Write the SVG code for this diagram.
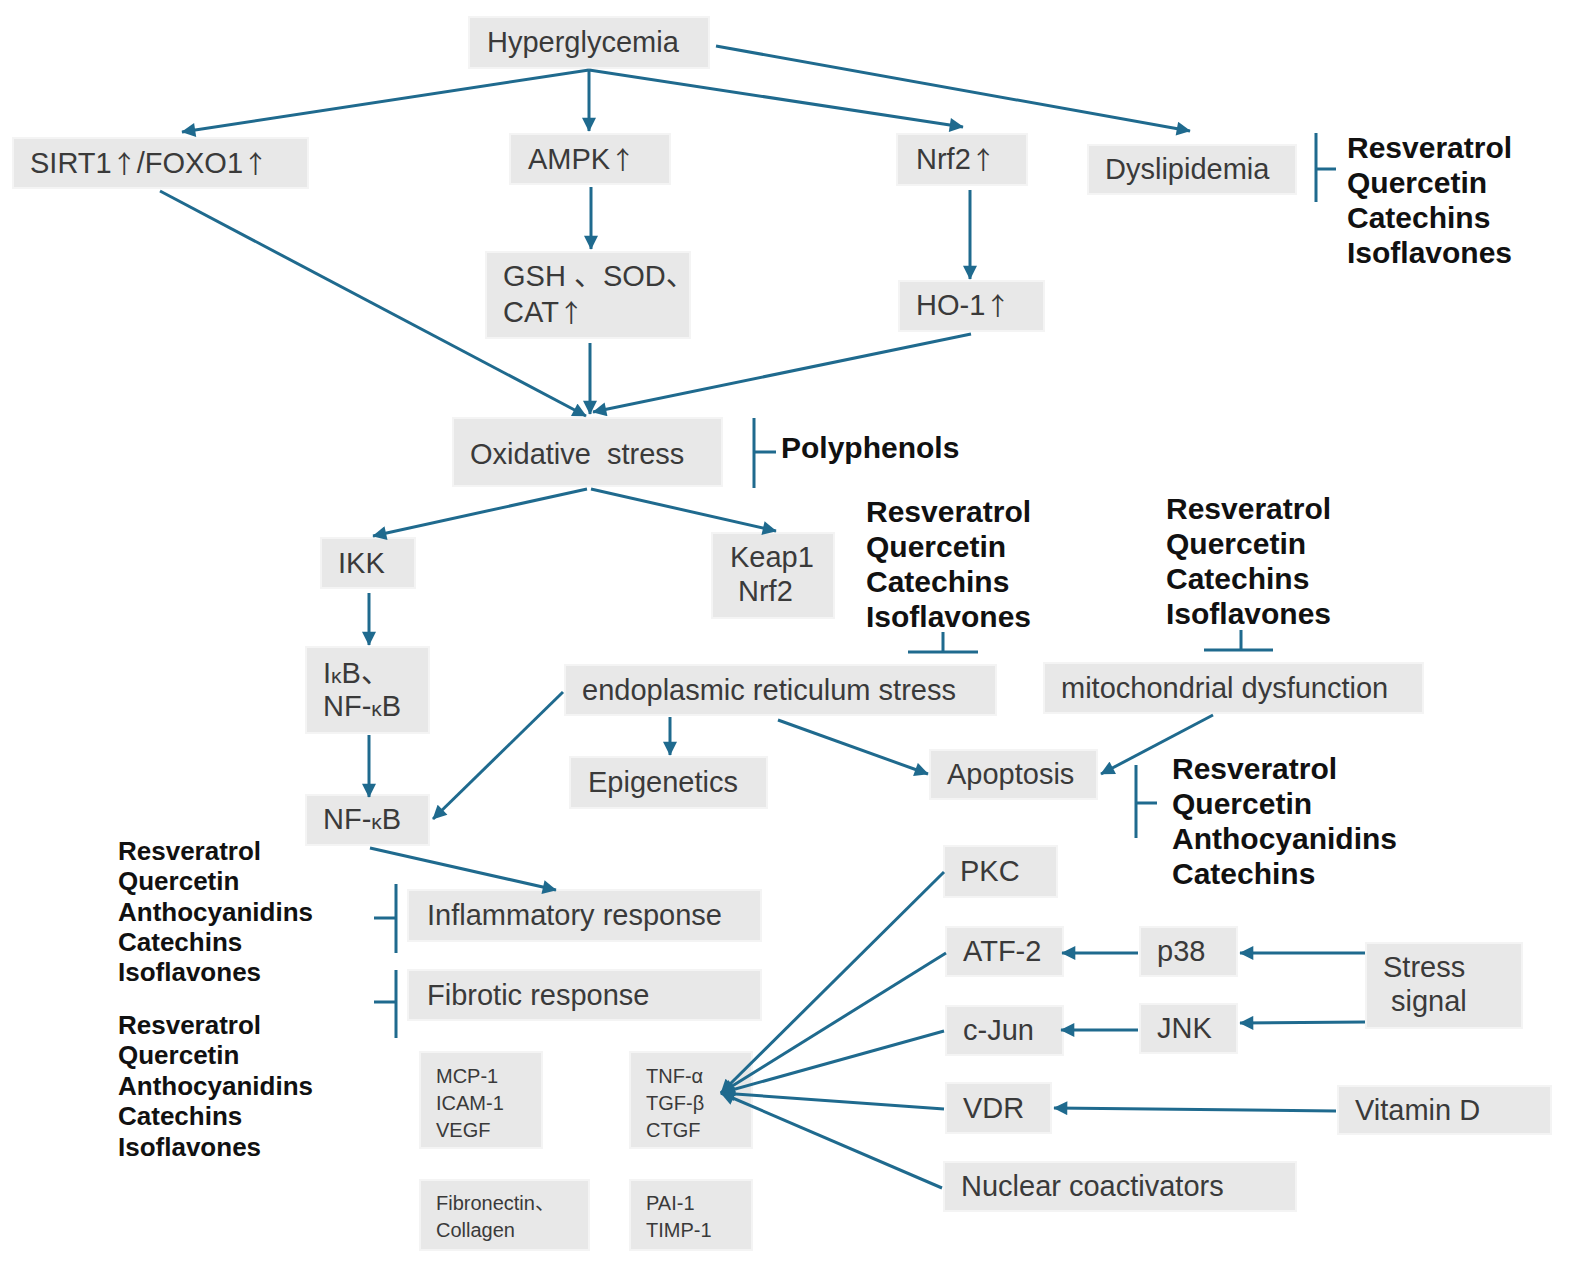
<svg xmlns="http://www.w3.org/2000/svg" width="1570" height="1273" viewBox="0 0 1570 1273">
<defs>
<marker id="ah" viewBox="0 0 10 10" refX="9.5" refY="5" markerWidth="15" markerHeight="14" markerUnits="userSpaceOnUse" orient="auto">
<path d="M0,0 L10,5 L0,10 z" fill="#1f6a8e"/>
</marker>
<style>
.b{fill:#e8e8e8;stroke:#f4f4f4;stroke-width:2}
.t{font-family:"Liberation Sans","Noto Sans CJK JP",sans-serif;font-size:29px;fill:#3a3a3a}
.s{font-family:"Liberation Sans","Noto Sans CJK JP",sans-serif;font-size:20px;fill:#3a3a3a}
.k{font-family:"Liberation Sans","Noto Sans CJK JP",sans-serif;font-size:30px;font-weight:bold;fill:#111}
.kl{font-family:"Liberation Sans","Noto Sans CJK JP",sans-serif;font-size:26px;font-weight:bold;fill:#111}
.u{font-family:"Noto Sans CJK JP",sans-serif;font-size:25px}
.c{stroke:#1f6a8e;stroke-width:3;fill:none;marker-end:url(#ah)}
.i{stroke:#1f6a8e;stroke-width:3;fill:none}
</style>
</defs>
<rect width="1570" height="1273" fill="#ffffff"/>

<g id="hyperglycemia"><rect class="b" x="469" y="17" width="240" height="51"/><text class="t" x="487" y="52">Hyperglycemia</text></g>
<g id="sirt1"><rect class="b" x="13" y="138" width="295" height="50"/><text class="t" x="30" y="173">SIRT1<tspan class="u">↑</tspan>/FOXO1<tspan class="u">↑</tspan></text></g>
<g id="ampk"><rect class="b" x="510" y="134" width="160" height="50"/><text class="t" x="528" y="169">AMPK<tspan class="u">↑</tspan></text></g>
<g id="nrf2"><rect class="b" x="897" y="134" width="130" height="51"/><text class="t" x="916" y="169">Nrf2<tspan class="u">↑</tspan></text></g>
<g id="dyslipidemia"><rect class="b" x="1088" y="145" width="208" height="49"/><text class="t" x="1105" y="179">Dyslipidemia</text></g>
<g id="inh-dyslipidemia"><text class="k" x="1347" y="158">Resveratrol</text><text class="k" x="1347" y="193">Quercetin</text><text class="k" x="1347" y="228">Catechins</text><text class="k" x="1347" y="263">Isoflavones</text></g>
<g id="gsh"><rect class="b" x="486" y="252" width="204" height="86"/><text class="t" x="503" y="286">GSH 、SOD、</text><text class="t" x="503" y="322">CAT<tspan class="u">↑</tspan></text></g>
<g id="ho1"><rect class="b" x="899" y="281" width="145" height="50"/><text class="t" x="916" y="315">HO-1<tspan class="u">↑</tspan></text></g>
<g id="oxidative"><rect class="b" x="453" y="418" width="269" height="68"/><text class="t" x="470" y="464" xml:space="preserve">Oxidative  stress</text></g>
<g id="polyphenols"><text class="k" x="781" y="458">Polyphenols</text></g>
<g id="ikk"><rect class="b" x="321" y="538" width="94" height="50"/><text class="t" x="338" y="573">IKK</text></g>
<g id="keap1"><rect class="b" x="712" y="533" width="122" height="85"/><text class="t" x="730" y="567">Keap1</text><text class="t" x="738" y="601">Nrf2</text></g>
<g id="inh-er"><text class="k" x="866" y="522">Resveratrol</text><text class="k" x="866" y="557">Quercetin</text><text class="k" x="866" y="592">Catechins</text><text class="k" x="866" y="627">Isoflavones</text></g>
<g id="inh-mito"><text class="k" x="1166" y="519">Resveratrol</text><text class="k" x="1166" y="554">Quercetin</text><text class="k" x="1166" y="589">Catechins</text><text class="k" x="1166" y="624">Isoflavones</text></g>
<g id="ikb"><rect class="b" x="306" y="647" width="123" height="86"/><text class="t" x="323" y="683">I<tspan font-size="21">κ</tspan>B、</text><text class="t" x="323" y="716">NF-<tspan font-size="21">κ</tspan>B</text></g>
<g id="er-stress"><rect class="b" x="565" y="665" width="431" height="50"/><text class="t" x="582" y="700">endoplasmic reticulum stress</text></g>
<g id="mito"><rect class="b" x="1044" y="663" width="379" height="50"/><text class="t" x="1061" y="698">mitochondrial dysfunction</text></g>
<g id="nfkb"><rect class="b" x="306" y="795" width="123" height="50"/><text class="t" x="323" y="829">NF-<tspan font-size="21">κ</tspan>B</text></g>
<g id="epigenetics"><rect class="b" x="570" y="757" width="197" height="51"/><text class="t" x="588" y="792">Epigenetics</text></g>
<g id="apoptosis"><rect class="b" x="930" y="750" width="167" height="49"/><text class="t" x="947" y="784">Apoptosis</text></g>
<g id="inh-apoptosis"><text class="k" x="1172" y="779">Resveratrol</text><text class="k" x="1172" y="814">Quercetin</text><text class="k" x="1172" y="849">Anthocyanidins</text><text class="k" x="1172" y="884">Catechins</text></g>
<g id="inh-inflammatory"><text class="kl" x="118" y="860">Resveratrol</text><text class="kl" x="118" y="890">Quercetin</text><text class="kl" x="118" y="921">Anthocyanidins</text><text class="kl" x="118" y="951">Catechins</text><text class="kl" x="118" y="981">Isoflavones</text></g>
<g id="inh-fibrotic"><text class="kl" x="118" y="1034">Resveratrol</text><text class="kl" x="118" y="1064">Quercetin</text><text class="kl" x="118" y="1095">Anthocyanidins</text><text class="kl" x="118" y="1125">Catechins</text><text class="kl" x="118" y="1156">Isoflavones</text></g>
<g id="inflammatory"><rect class="b" x="408" y="890" width="353" height="51"/><text class="t" x="427" y="925">Inflammatory response</text></g>
<g id="fibrotic"><rect class="b" x="408" y="970" width="353" height="50"/><text class="t" x="427" y="1005">Fibrotic response</text></g>
<g id="mcp1"><rect class="b" x="420" y="1052" width="122" height="96"/><text class="s" x="436" y="1083">MCP-1</text><text class="s" x="436" y="1110">ICAM-1</text><text class="s" x="436" y="1137">VEGF</text></g>
<g id="tnf"><rect class="b" x="630" y="1052" width="122" height="96"/><text class="s" x="646" y="1083">TNF-α</text><text class="s" x="646" y="1110">TGF-β</text><text class="s" x="646" y="1137">CTGF</text></g>
<g id="fibronectin"><rect class="b" x="420" y="1180" width="169" height="70"/><text class="s" x="436" y="1210">Fibronectin、</text><text class="s" x="436" y="1237">Collagen</text></g>
<g id="pai1"><rect class="b" x="630" y="1180" width="122" height="70"/><text class="s" x="646" y="1210">PAI-1</text><text class="s" x="646" y="1237">TIMP-1</text></g>
<g id="pkc"><rect class="b" x="944" y="846" width="113" height="51"/><text class="t" x="960" y="881">PKC</text></g>
<g id="atf2"><rect class="b" x="946" y="927" width="117" height="49"/><text class="t" x="963" y="961">ATF-2</text></g>
<g id="p38"><rect class="b" x="1140" y="927" width="97" height="49"/><text class="t" x="1157" y="961">p38</text></g>
<g id="stress-signal"><rect class="b" x="1366" y="943" width="156" height="85"/><text class="t" x="1383" y="977">Stress</text><text class="t" x="1391" y="1011">signal</text></g>
<g id="cjun"><rect class="b" x="946" y="1006" width="117" height="49"/><text class="t" x="963" y="1040">c-Jun</text></g>
<g id="jnk"><rect class="b" x="1140" y="1004" width="97" height="49"/><text class="t" x="1157" y="1038">JNK</text></g>
<g id="vdr"><rect class="b" x="946" y="1083" width="105" height="50"/><text class="t" x="963" y="1118">VDR</text></g>
<g id="vitamin-d"><rect class="b" x="1338" y="1086" width="213" height="48"/><text class="t" x="1355" y="1120">Vitamin D</text></g>
<g id="nuclear"><rect class="b" x="944" y="1162" width="352" height="49"/><text class="t" x="961" y="1196">Nuclear coactivators</text></g>

<g id="connectors">
<line class="c" x1="589" y1="70" x2="182" y2="132"/>
<line class="c" x1="589" y1="70" x2="589" y2="131"/>
<line class="c" x1="589" y1="70" x2="963" y2="127"/>
<line class="c" x1="716" y1="46" x2="1190" y2="131"/>
<line class="c" x1="591" y1="187" x2="591" y2="249"/>
<line class="c" x1="970" y1="190" x2="970" y2="279"/>
<line class="c" x1="160" y1="191" x2="586" y2="416"/>
<line class="c" x1="590" y1="343" x2="590" y2="414"/>
<line class="c" x1="971" y1="334" x2="593" y2="412"/>
<line class="c" x1="587" y1="489" x2="373" y2="536"/>
<line class="c" x1="591" y1="489" x2="776" y2="531"/>
<line class="c" x1="369" y1="593" x2="369" y2="645"/>
<line class="c" x1="369" y1="735" x2="369" y2="797"/>
<line class="c" x1="563" y1="692" x2="433" y2="819"/>
<line class="c" x1="670" y1="717" x2="670" y2="755"/>
<line class="c" x1="778" y1="720" x2="928" y2="774"/>
<line class="c" x1="1213" y1="715" x2="1101" y2="774"/>
<line class="c" x1="370" y1="848" x2="556" y2="890"/>
<line class="c" x1="944" y1="872" x2="721" y2="1093"/>
<line class="c" x1="946" y1="953" x2="721" y2="1093"/>
<line class="c" x1="944" y1="1031" x2="721" y2="1093"/>
<line class="c" x1="944" y1="1109" x2="721" y2="1093"/>
<line class="c" x1="942" y1="1188" x2="721" y2="1093"/>
<line class="c" x1="1138" y1="953" x2="1062" y2="953"/>
<line class="c" x1="1365" y1="953" x2="1240" y2="953"/>
<line class="c" x1="1138" y1="1030" x2="1061" y2="1030"/>
<line class="c" x1="1365" y1="1022" x2="1240" y2="1023"/>
<line class="c" x1="1336" y1="1111" x2="1054" y2="1108"/>
<path class="i" d="M1316,133 V202 M1316,169 H1336"/>
<path class="i" d="M754,418 V488 M754,452 H776"/>
<path class="i" d="M943,632 V652 M908,652 H978"/>
<path class="i" d="M1241,630 V650 M1204,650 H1273"/>
<path class="i" d="M1136,765 V838 M1136,803 H1157"/>
<path class="i" d="M396,884 V953 M374,918 H396"/>
<path class="i" d="M396,970 V1038 M374,1002 H396"/>
</g>
</svg>
